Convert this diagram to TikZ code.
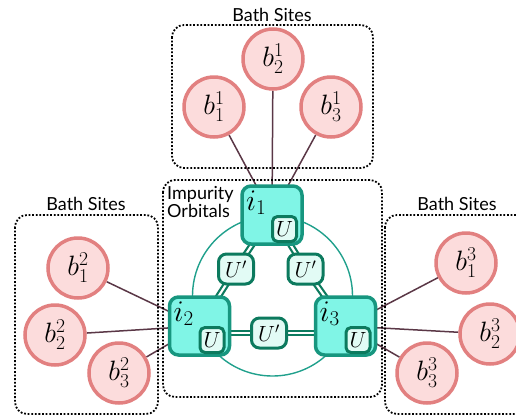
\RequirePackage{fix-cm}
\documentclass[tikz,border=0pt]{standalone}
\usepackage{fontspec}
\newfontfamily\labfont{Lato}
\usetikzlibrary{backgrounds}
\definecolor{bathfill}{HTML}{FCDCDC}
\definecolor{bathdraw}{HTML}{E28080}
\definecolor{linkc}{HTML}{5A3746}
\definecolor{impfill}{HTML}{80F5E6}
\definecolor{impdraw}{HTML}{17967F}
\definecolor{udraw}{HTML}{0C7A5E}
\definecolor{ufill}{HTML}{E2FBF5}
\definecolor{ringc}{HTML}{20A08C}
\begin{document}
\begin{tikzpicture}[x=1pt,y=-1pt,
 bath/.style={circle,draw=bathdraw,fill=bathfill,line width=3.5pt,minimum size=60pt,inner sep=0pt,font=\fontsize{28}{28}\selectfont},
 imp/.style={rectangle,rounded corners=9pt,draw=impdraw,fill=impfill,line width=3.5pt,minimum width=60pt,minimum height=58pt,inner sep=0pt},
 ubox/.style={rectangle,rounded corners=5pt,draw=udraw,fill=ufill,line width=3pt,minimum width=24pt,minimum height=25pt,inner sep=0pt,font=\fontsize{22}{22}\selectfont},
 upbox/.style={ubox,minimum width=35pt,minimum height=30pt,rounded corners=8pt},
 ilabel/.style={anchor=base west,inner sep=0pt,font=\fontsize{30}{30}\selectfont},
 region/.style={draw,line width=1.8pt,dash pattern=on 1.8pt off 1.8pt,rounded corners=12pt},
 title/.style={font=\labfont\fontsize{18}{18}\selectfont,inner sep=0pt},
 link/.style={draw=linkc,line width=1.5pt},
 dlink/.style={draw=udraw,line width=2.2pt,double=white,double distance=2.2pt},
 ring/.style={draw=ringc,line width=1.4pt}]
\useasboundingbox (0,0) rectangle (516,418);
% regions
\draw[region] (172,25) rectangle (373,168);
\draw[region] (163,180) rectangle (382,397);
\draw[region] (15,215) rectangle (158,414);
\draw[region] (385,215) rectangle (530,414);
% titles
\node[title,anchor=base] (t1) at (272,21) {Bath Sites};
\node[title,anchor=base] (t2) at (86,210) {Bath Sites};
\node[title,anchor=base] (t3) at (457,210) {Bath Sites};
\node[title,anchor=north west,align=left] (t4) at (167,186) {Impurity\\Orbitals};
% bath sites
\node[bath] (b11) at (214,107) {$b^1_1$};
\node[bath] (b21) at (273,59) {$b^1_2$};
\node[bath] (b31) at (331,107) {$b^1_3$};
\node[bath] (b12) at (78,268) {$b^2_1$};
\node[bath] (b22) at (55,335) {$b^2_2$};
\node[bath] (b32) at (119,373) {$b^2_3$};
\node[bath] (b13) at (466,263) {$b^3_1$};
\node[bath] (b23) at (490,334) {$b^3_2$};
\node[bath] (b33) at (427,373) {$b^3_3$};
% impurity orbitals
\node[imp] (i1) at (272,215) {};
\node[imp] (i2) at (199.5,326) {};
\node[imp] (i3) at (345.5,326) {};
\node[ilabel] (l1) at (246,210) {$i_1$};
\node[ilabel] (l2) at (173.5,321) {$i_2$};
\node[ilabel] (l3) at (319.5,321) {$i_3$};
\node[ubox] (u1) at (284.5,229) {$U$};
\node[ubox] (u2) at (212,340) {$U$};
\node[ubox] (u3) at (358,340) {$U$};
\node[upbox] (p12) at (236,269) {$U'$};
\node[upbox] (p13) at (305.5,269) {$U'$};
\node[upbox] (p23) at (269,333) {$U'$};
\begin{scope}[on background layer]
\draw[ring] (272.5,296) circle[radius=80];
\foreach \b/\i in {b11/i1,b21/i1,b31/i1,b12/i2,b22/i2,b32/i2,b13/i3,b23/i3,b33/i3}
  \draw[link] (\b) -- (\i.center);
\draw[dlink] (i1.center) -- (p12.center);
\draw[dlink] (p12.center) -- (i2.center);
\draw[dlink] (i1.center) -- (p13.center);
\draw[dlink] (p13.center) -- (i3.center);
\draw[dlink] (i2.center |- p23.center) -- (p23.center);
\draw[dlink] (p23.center) -- (i3.center |- p23.center);
\end{scope}
\end{tikzpicture}
\end{document}
